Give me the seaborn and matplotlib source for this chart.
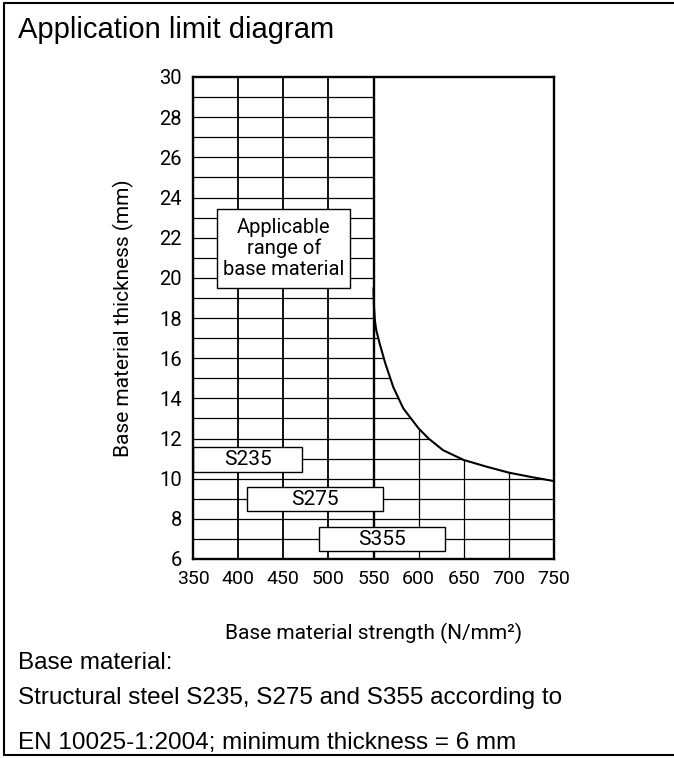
import numpy as np
import matplotlib
matplotlib.use("Agg")
import matplotlib.pyplot as plt
import seaborn as sns
from matplotlib.patches import Rectangle
from matplotlib.lines import Line2D

# ---------------- data ----------------
curve_strength = [550, 550.5, 551.5, 553, 557, 563, 572, 583, 600, 611, 627,
                  650, 675, 700, 725, 750]
curve_thickness = [19.5, 18.6, 17.9, 17.4, 16.7, 15.75, 14.55, 13.5, 12.5, 12.0, 11.42,
                   10.93, 10.6, 10.3, 10.08, 9.88]

x_ticks = [350, 400, 450, 500, 550, 600, 650, 700, 750]
y_ticks = [6, 8, 10, 12, 14, 16, 18, 20, 22, 24, 26, 28, 30]

grade_names = ["S235", "S275", "S355"]
grade_strength_min = [350, 410, 490]
grade_strength_max = [471, 560, 629]
grade_thick_low = [10.35, 8.38, 6.38]
grade_thick_high = [11.6, 9.59, 7.58]

range_label = "Applicable\nrange of\nbase material"
range_strength = [377, 524]
range_thick = [19.5, 23.43]

title = "Application limit diagram"
x_label = "Base material strength (N/mm²)"
y_label = "Base material thickness (mm)"
notes = ["Base material:",
         "Structural steel S235, S275 and S355 according to",
         "EN 10025-1:2004; minimum thickness = 6 mm"]

# ---------------- style ----------------
sns.set_theme(style="white")
plt.rcParams['font.family'] = ['DejaVu Sans']
for k in ["text.color", "axes.labelcolor", "xtick.color", "ytick.color"]:
    plt.rcParams[k] = "black"
tech = dict(family=['Roboto', 'DejaVu Sans'])
arial = dict(family=['Liberation Sans', 'DejaVu Sans'])

fig = plt.figure(figsize=(6.74, 7.58), dpi=100)
ax = fig.add_axes([193/674, 1 - 559/758, 361/674, 482/758])
ax.set_xlim(350, 750)
ax.set_ylim(6, 30)

# grid (full), later masked above curve
for yv in range(7, 30):
    ax.axhline(yv, color="black", lw=0.9, zorder=0.5)
for xv in [400, 450, 500]:
    ax.axvline(xv, color="black", lw=1.3, zorder=0.5)
for xv in [600, 650, 700]:
    ax.axvline(xv, color="black", lw=0.9, zorder=0.5)

# white mask above the limit curve
ax.fill_between(curve_strength, curve_thickness, 30, color="white", zorder=1, lw=0)
ax.axvline(550, color="black", lw=1.7, zorder=3)

sns.lineplot(x=curve_strength, y=curve_thickness, ax=ax, color="black", lw=1.5,
             estimator=None, sort=False, zorder=3)

# boxes
for name, x0, x1, y0, y1 in zip(grade_names, grade_strength_min, grade_strength_max,
                                grade_thick_low, grade_thick_high):
    ax.add_patch(Rectangle((x0, y0), x1 - x0, y1 - y0, facecolor="white",
                           edgecolor="black", lw=1.0, zorder=4))
    ax.text((x0 + x1) / 2, (y0 + y1) / 2, name, ha="center", va="center",
            fontsize=15, zorder=5, **tech)

ax.add_patch(Rectangle((range_strength[0], range_thick[0]),
                       range_strength[1] - range_strength[0],
                       range_thick[1] - range_thick[0], facecolor="white",
                       edgecolor="black", lw=1.0, zorder=4))
ax.text(sum(range_strength) / 2, sum(range_thick) / 2, range_label, ha="center",
        va="center", fontsize=14.5, linespacing=1.1, zorder=5, **tech)

ax.set_xticks(x_ticks)
ax.set_yticks(y_ticks)
ax.set_xticklabels([str(v) for v in x_ticks], fontsize=14, **tech)
ax.set_yticklabels([str(v) for v in y_ticks], fontsize=14.5, **tech)
ax.tick_params(axis="both", length=0, pad=8)
for s in ax.spines.values():
    s.set_color("black")
    s.set_linewidth(1.7)
    s.set_zorder(6)

ax.set_xlabel(x_label, fontsize=15, labelpad=25, **tech)
ax.set_ylabel(y_label, fontsize=15, labelpad=18, **tech)

fig.text(18/674, 1 - 30/758, title, fontsize=21, ha="left", va="center", **arial)
fig.text(18/674, 1 - 663/758, notes[0], fontsize=17.5, ha="left", va="center", **arial)
fig.text(18/674, 1 - 698/758, notes[1], fontsize=17.5, ha="left", va="center", **arial)
fig.text(18/674, 1 - 743/758, notes[2], fontsize=17.5, ha="left", va="center", **arial)

# outer frame
for (xa, ya) in [([4/674, 4/674], [1 - 3/758, 1 - 755/758]),
                 ([4/674, 1], [1 - 3/758, 1 - 3/758]),
                 ([4/674, 1], [1 - 755/758, 1 - 755/758])]:
    fig.add_artist(Line2D(xa, ya, color="black", lw=1.5, transform=fig.transFigure))

fig.savefig("out.png", dpi=100)
